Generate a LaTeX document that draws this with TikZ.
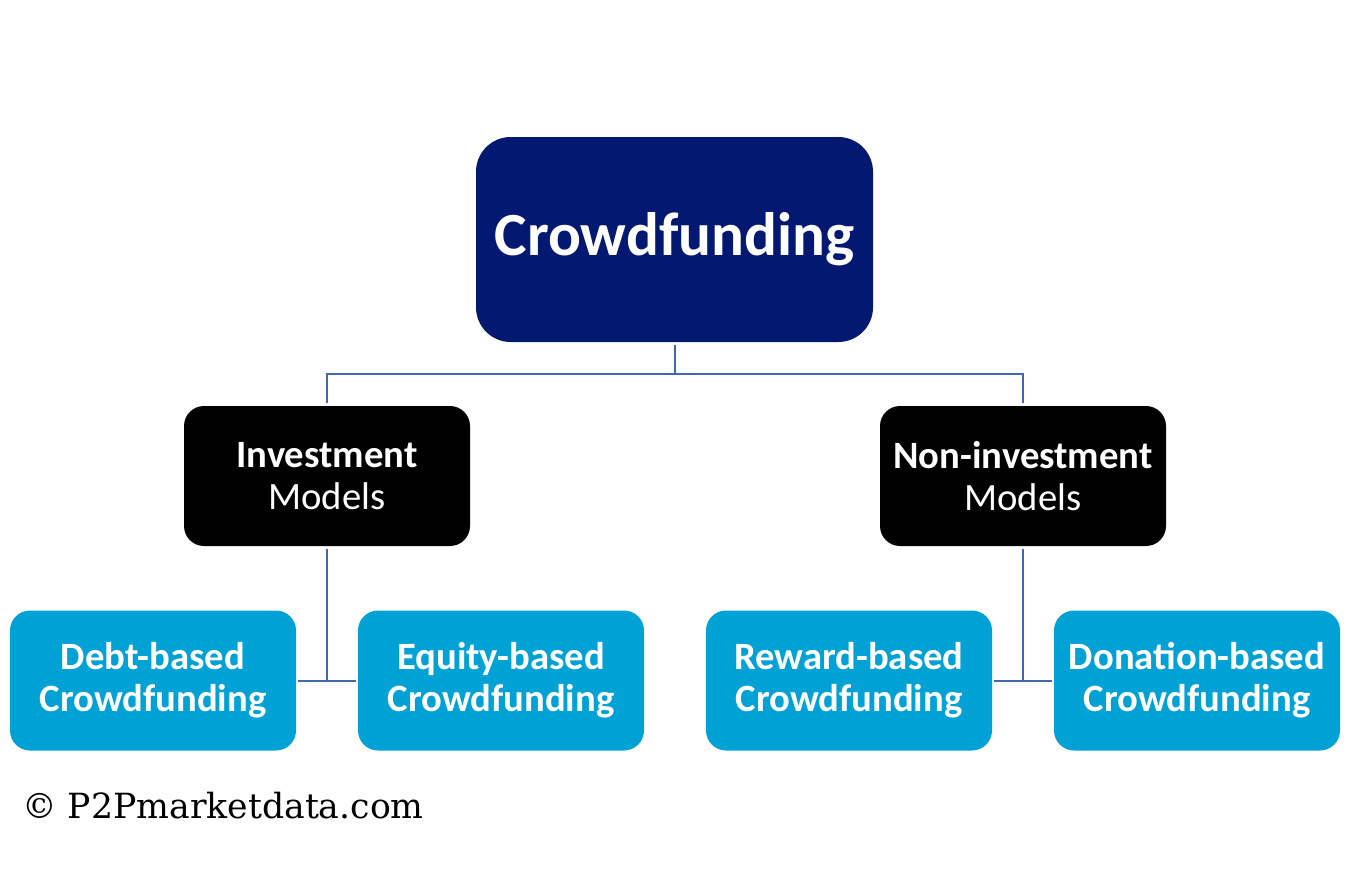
\documentclass[tikz,border=0pt]{standalone}
\usepackage{fontspec}
\setmainfont{Carlito}
\newfontfamily\markfont{DejaVu Serif}
\usetikzlibrary{positioning,calc}
\definecolor{navy}{HTML}{021871}
\definecolor{sky}{HTML}{00A2D6}
\definecolor{link}{HTML}{4468B0}
\begin{document}
\begin{tikzpicture}[x=0.75pt,y=-0.75pt,
 box/.style={rounded corners=15pt,text=white,align=center,inner sep=0pt,
  minimum width=214.5pt,minimum height=105pt},
 model/.style={box,fill=black,font=\fontsize{29}{31.5}\selectfont},
 kind/.style={box,fill=sky,font=\fontsize{29}{31.5}\selectfont\bfseries},
 tree/.style={link,line width=1.5pt}]
 \useasboundingbox (0,0) rectangle (1362,889);
 % root
 \node[box,fill=navy,rounded corners=26pt,minimum width=297.75pt,minimum height=153.75pt,
  font=\fontsize{46}{50}\selectfont\bfseries] (root) at (674.5,239.5) {\raisebox{-2pt}{Crowdfunding}};
 % second level
 \node[model] (inv) at (327,476) {\textbf{Investment}\\Models};
 \node[model] (noninv) at (1023,476) {\textbf{Non-investment}\\Models};
 % third level
 \node[kind] (debt) at (153,680.5) {Debt-based\\Crowdfunding};
 \node[kind] (equity) at (501,680.5) {Equity-based\\Crowdfunding};
 \node[kind] (reward) at (849,680.5) {Reward-based\\Crowdfunding};
 \node[kind] (donation) at (1197,680.5) {Donation-based\\Crowdfunding};
 % connectors
 \coordinate (split) at ($(root.south)+(0,32)$);
 \draw[tree] ($(root.south)+(0,3)$) -- (split);
 \draw[tree] (split) -| ($(inv.north)+(0,-3)$);
 \draw[tree] (split) -| ($(noninv.north)+(0,-3)$);
 \draw[tree] ($(inv.south)+(0,3)$) -- (inv.south |- debt);
 \draw[tree] ($(debt.east)+(2,0)$) -- ($(equity.west)+(-2,0)$);
 \draw[tree] ($(noninv.south)+(0,3)$) -- (noninv.south |- reward);
 \draw[tree] ($(reward.east)+(2,0)$) -- ($(donation.west)+(-2,0)$);
 \node[anchor=west,inner sep=0pt,font=\markfont\fontsize{26}{28}\selectfont] (mark) at (22,806) {© P2Pmarketdata.com};
\end{tikzpicture}
\end{document}
